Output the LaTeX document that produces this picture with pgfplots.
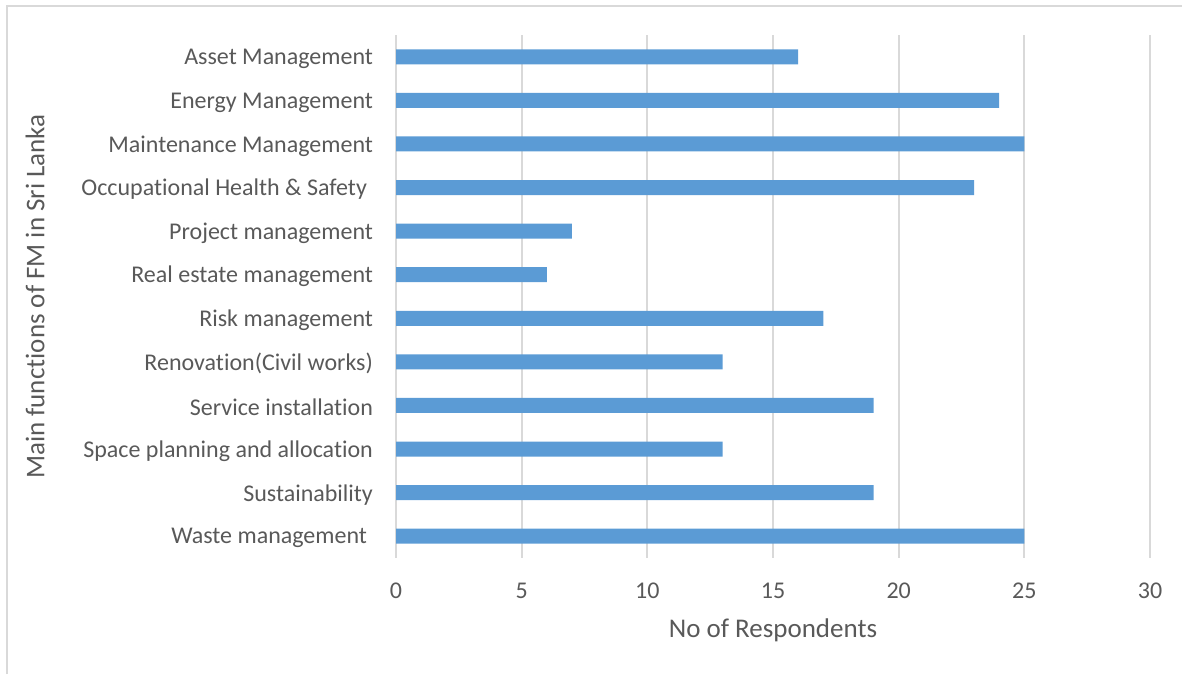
\documentclass[border=0pt]{standalone}
\usepackage{fontspec}
\setmainfont{Carlito}[Ligatures=NoCommon]
\usepackage{pgfplots}
\pgfplotsset{compat=1.18}
\definecolor{barblue}{HTML}{5B9BD5}
\definecolor{gridgray}{HTML}{D9D9D9}
\definecolor{txtgray}{HTML}{595959}
\begin{document}
\begin{tikzpicture}
\useasboundingbox (0,0) rectangle (591pt,337pt);
\draw[gridgray, line width=0.6pt] (3.5pt,0) -- (3.5pt,334pt) -- (591pt,334pt);
\begin{axis}[
  at={(198pt,58pt)}, anchor=south west,
  scale only axis, width=377pt, height=261.5pt,
  xmin=0, xmax=30, xtick={0,5,...,30},
  ymin=-0.5, ymax=11.5, y dir=reverse,
  ytick={0,...,11},
  yticklabels={Asset Management, Energy Management, Maintenance Management, {Occupational Health \& Safety\kern3pt}, Project management, Real estate management, Risk management, Renovation(Civil works), Service installation, Space planning and allocation, Sustainability, {Waste management\kern3pt}},
  xbar, bar width=7.5pt,
  separate axis lines,
  axis x line*=bottom, axis y line*=left,
  x axis line style={draw=none},
  y axis line style={draw=gridgray, line width=1pt, -},
  major tick length=0pt,
  xmajorgrids, grid style={gridgray, line width=1pt},
  tick label style={font=\fontsize{12}{14}\selectfont, text=txtgray},
  /pgf/number format/assume math mode=true,
  xticklabel style={yshift=-9pt},
  yticklabel style={xshift=-8pt, yshift=-1pt},
  xlabel={No of Respondents},
  ylabel={Main functions of FM in Sri Lanka},
  label style={font=\fontsize{13.5}{16}\selectfont, text=txtgray},
  xlabel style={at={(axis description cs:0.5,0)}, anchor=center, yshift=-36pt},
  ylabel style={at={(axis description cs:0,0.5)}, anchor=center, yshift=180.5pt},
]
\addplot[fill=barblue, draw=none] coordinates {
(16,0) (24,1) (25,2) (23,3) (7,4) (6,5) (17,6) (13,7) (19,8) (13,9) (19,10) (25,11)
};
\end{axis}
\end{tikzpicture}
\end{document}
